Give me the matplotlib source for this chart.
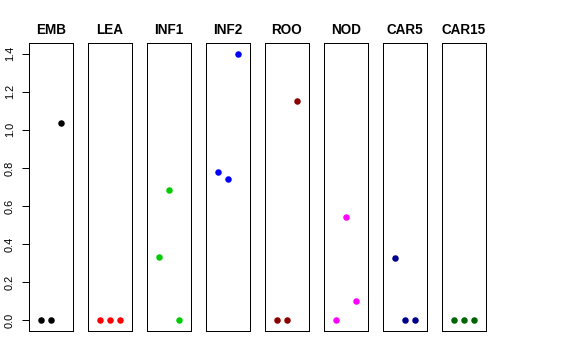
import matplotlib
matplotlib.use("Agg")
import matplotlib.pyplot as plt

plt.rcParams["font.family"] = ["Liberation Sans", "DejaVu Sans"]

# one panel per tissue, three replicates each
tissues = ["EMB", "LEA", "INF1", "INF2", "ROO", "NOD", "CAR5", "CAR15"]
replicates = [1, 2, 3]
values = {
    "EMB": [0.0, 0.0, 1.035],
    "LEA": [0.0, 0.0, 0.0],
    "INF1": [0.335, 0.683, 0.0],
    "INF2": [0.779, 0.742, 1.40],
    "ROO": [0.0, 0.0, 1.152],
    "NOD": [0.0, 0.545, 0.100],
    "CAR5": [0.327, 0.0, 0.0],
    "CAR15": [0.0, 0.0, 0.0],
}
colors = ["black", "red", "#00CD00", "blue", "#8B0000", "magenta", "#00008B", "#006400"]
yticks = [0.0, 0.2, 0.4, 0.6, 0.8, 1.0, 1.2, 1.4]

W, H = 576, 360
fig = plt.figure(figsize=(W / 72, H / 72), dpi=72)

left0, step, width = 29, 59, 44
top, bottom = 43, 331

for i, (name, col) in enumerate(zip(tissues, colors)):
    ax = fig.add_axes([(left0 + i * step) / W, 1 - bottom / H, width / W, (bottom - top) / H])
    ax.plot(replicates, values[name], "o", color=col, ms=6.5, mec="none")
    ax.set_xlim(-0.1, 4.1)
    ax.set_ylim(-0.056, 1.456)
    ax.set_xticks([])
    ax.set_title(name, fontsize=13.5, fontweight="bold", pad=9)
    for s in ax.spines.values():
        s.set_linewidth(1.0)
    if i == 0:
        ax.set_yticks(yticks)
        ax.set_yticklabels([f"{v:.1f}" for v in yticks], rotation=90, va="center", fontsize=11)
        ax.tick_params(axis="y", length=7, width=1, pad=7)
    else:
        ax.set_yticks([])

fig.savefig("out.png", dpi=72)
